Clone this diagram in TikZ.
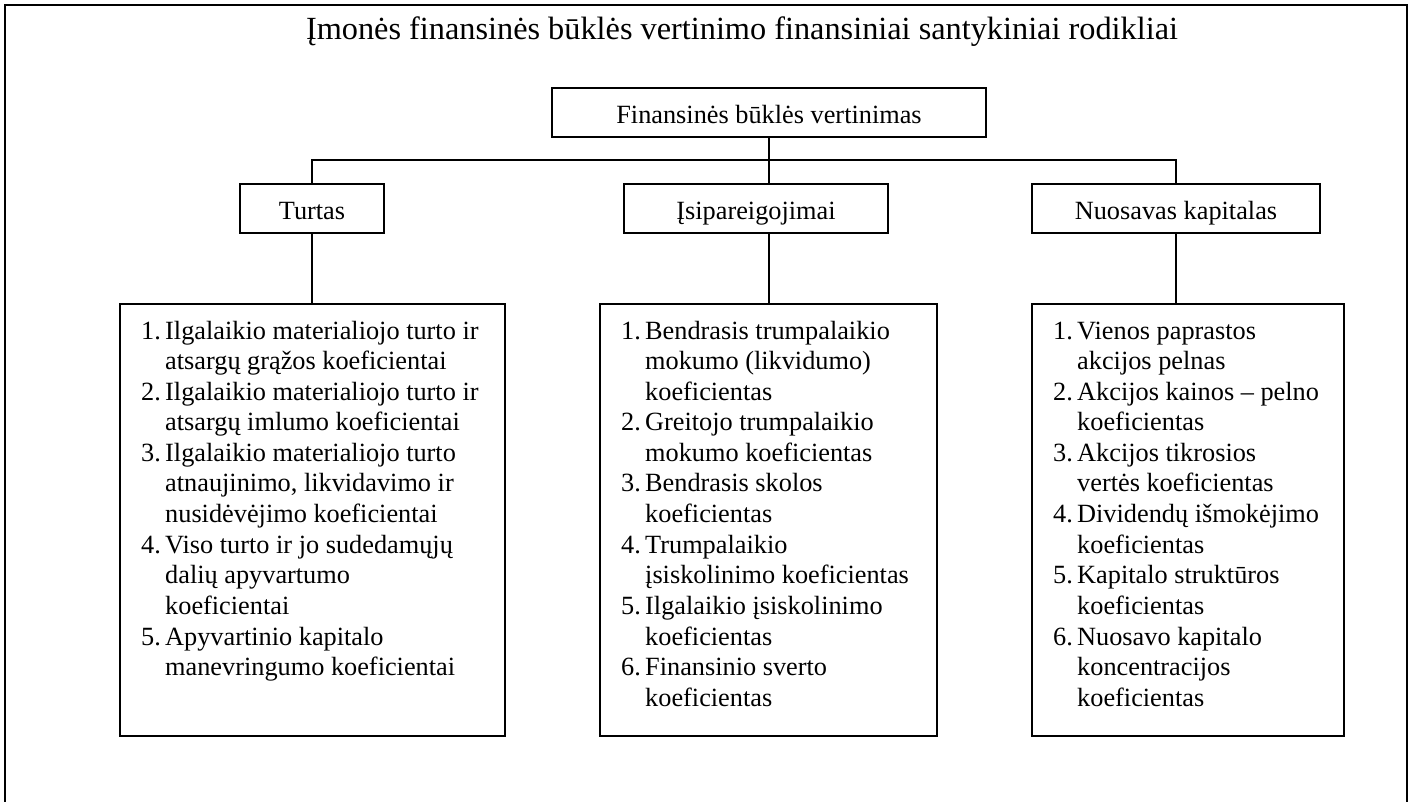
\documentclass[tikz,border=0pt]{standalone}
\usepackage{fontspec}
\setmainfont{Liberation Serif}
\newcommand{\lsty}{\fontsize{26.3}{30.6}\selectfont}
\newcommand{\lnum}[1]{\makebox[24pt][l]{#1}}
\newcommand{\lind}{\hspace*{24pt}}
\tikzset{
  box/.style={draw, line width=1.7pt, rectangle, inner sep=0pt, font=\lsty},
  hbox/.style={box, minimum height=49pt, text height=25pt, text depth=3pt},
  conn/.style={line width=1.7pt},
  framestyle/.style={line width=2.4pt},
  lst/.style={inner sep=0pt, anchor=base west, font=\lsty}
}
\begin{document}
\begin{tikzpicture}[x=1pt,y=-1pt]
\useasboundingbox (0,0) rectangle (1411,802);
\draw[framestyle] (5,802) -- (5,5) -- (1407,5) -- (1407,802);
\node[anchor=base, inner sep=0pt, font=\fontsize{32.3}{38}\selectfont] (title) at (742,40) {Įmonės finansinės būklės vertinimo finansiniai santykiniai rodikliai};
% top box
\node[hbox, minimum width=434pt] (fin) at (769,112.5) {Finansinės būklės vertinimas};
% second level
\node[hbox, minimum width=144pt] (tur) at (312,208.5) {Turtas};
\node[hbox, minimum width=264pt] (isi) at (756,208.5) {Įsipareigojimai};
\node[hbox, minimum width=288pt] (nuo) at (1176,208.5) {Nuosavas kapitalas};
% lower boxes
\node[box, minimum width=385pt, minimum height=432pt] (turL) at (312.5,520) {};
\node[box, minimum width=337pt, minimum height=432pt] (isiL) at (768.5,520) {};
\node[box, minimum width=312pt, minimum height=432pt] (nuoL) at (1188,520) {};
% connectors
\coordinate (bus) at (0,160);
\draw[conn] (fin.south) -- (fin.south |- isi.north);
\draw[conn] (tur.north) -- (tur.north |- bus) -- (nuo.north |- bus) -- (nuo.north);
\draw[conn] (tur.south) -- (tur.south |- turL.north);
\draw[conn] (fin.south |- isi.south) -- (fin.south |- isiL.north);
\draw[conn] (nuo.south) -- (nuo.south |- nuoL.north);
% lists
\node[lst] (turT) at (141,339) {\parbox[t]{400pt}{\lsty
\lnum{1.}Ilgalaikio materialiojo turto ir\\
\lind atsargų grąžos koeficientai\\
\lnum{2.}Ilgalaikio materialiojo turto ir\\
\lind atsargų imlumo koeficientai\\
\lnum{3.}Ilgalaikio materialiojo turto\\
\lind atnaujinimo, likvidavimo ir\\
\lind nusidėvėjimo koeficientai\\
\lnum{4.}Viso turto ir jo sudedamųjų\\
\lind dalių apyvartumo\\
\lind koeficientai\\
\lnum{5.}Apyvartinio kapitalo\\
\lind manevringumo koeficientai}};
\node[lst] (isiT) at (621,339) {\parbox[t]{400pt}{\lsty
\lnum{1.}Bendrasis trumpalaikio\\
\lind mokumo (likvidumo)\\
\lind koeficientas\\
\lnum{2.}Greitojo trumpalaikio\\
\lind mokumo koeficientas\\
\lnum{3.}Bendrasis skolos\\
\lind koeficientas\\
\lnum{4.}Trumpalaikio\\
\lind įsiskolinimo koeficientas\\
\lnum{5.}Ilgalaikio įsiskolinimo\\
\lind koeficientas\\
\lnum{6.}Finansinio sverto\\
\lind koeficientas}};
\node[lst] (nuoT) at (1053,339) {\parbox[t]{400pt}{\lsty
\lnum{1.}Vienos paprastos\\
\lind akcijos pelnas\\
\lnum{2.}Akcijos kainos – pelno\\
\lind koeficientas\\
\lnum{3.}Akcijos tikrosios\\
\lind vertės koeficientas\\
\lnum{4.}Dividendų išmokėjimo\\
\lind koeficientas\\
\lnum{5.}Kapitalo struktūros\\
\lind koeficientas\\
\lnum{6.}Nuosavo kapitalo\\
\lind koncentracijos\\
\lind koeficientas}};
\end{tikzpicture}
\end{document}
